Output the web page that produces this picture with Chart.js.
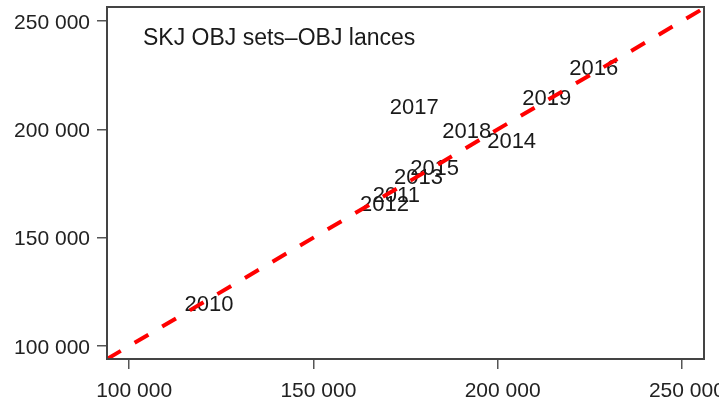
<!DOCTYPE html>
<html>
<head>
<meta charset="utf-8">
<script src="https://cdn.jsdelivr.net/npm/chart.js@4"></script>
<style>
  html, body { margin: 0; padding: 0; background: #fff; }
  canvas { display: block; }
</style>
</head>
<body>
<canvas id="grafica" width="719" height="405"></canvas>
<script>
// 📋 DATOS
const anios = ['2010', '2011', '2012', '2013', '2014', '2015', '2016', '2017', '2018', '2019'];
const sets = [121700, 172500, 169300, 178500, 203800, 182900, 226100, 177400, 191600, 213300];
const lances = [118900, 169200, 165100, 177500, 194100, 181700, 227800, 209800, 198700, 214000];
const lineaIgual = [94000, 256000];
const ticksEje = [100000, 150000, 200000, 250000];
const titulo = 'SKJ OBJ sets\u2013OBJ lances';

const fuente = '"Liberation Sans", Arial, sans-serif';

function formatoMiles(v) {
  return String(v).replace(/\B(?=(\d{3})+(?!\d))/g, ' ');
}

// 🏷️ ETIQUETAS DE AÑO + TITULO + MARCO
const etiquetas = {
  id: 'etiquetas',
  beforeDatasetsDraw(chart) {
    const ctx = chart.ctx;
    const meta = chart.getDatasetMeta(0);
    ctx.save();
    ctx.fillStyle = '#1a1a1a';
    ctx.font = '22px ' + fuente;
    ctx.textAlign = 'center';
    ctx.textBaseline = 'middle';
    meta.data.forEach((p, i) => {
      ctx.fillText(anios[i], p.x, p.y);
    });
    const area = chart.chartArea;
    ctx.font = '23px ' + fuente;
    ctx.textAlign = 'left';
    ctx.fillText(titulo, area.left + 36, area.top + 32);
    ctx.restore();
  },
  afterDraw(chart) {
    const ctx = chart.ctx;
    const a = chart.chartArea;
    ctx.save();
    ctx.strokeStyle = '#444';
    ctx.lineWidth = 2;
    ctx.strokeRect(a.left, a.top, a.right - a.left, a.bottom - a.top);
    ctx.restore();
  }
};

const ejeComun = {
  type: 'linear',
  grid: { drawOnChartArea: false, drawTicks: true, tickLength: 10, color: '#555', lineWidth: 1.5 },
  border: { display: true, color: '#444', width: 2 },
  ticks: {
    color: '#222',
    font: { family: fuente, size: 21 },
    callback: v => formatoMiles(v)
  },
  afterBuildTicks: scale => {
    scale.ticks = ticksEje.map(v => ({ value: v }));
  }
};

new Chart(document.getElementById('grafica').getContext('2d'), {
  type: 'scatter',
  data: {
    datasets: [{
      data: sets.map((x, i) => ({ x: x, y: lances[i] })),
      pointRadius: 0,
      showLine: false
    }, {
      data: lineaIgual.map(v => ({ x: v, y: v })),
      showLine: true,
      pointRadius: 0,
      borderColor: '#ff0000',
      borderWidth: 4,
      borderDash: [16, 16],
      borderCapStyle: 'butt'
    }]
  },
  options: {
    responsive: false,
    devicePixelRatio: 1,
    animation: false,
    layout: { padding: { top: 7, right: 15, left: 0, bottom: 0 } },
    plugins: {
      legend: { display: false },
      tooltip: { enabled: false }
    },
    scales: {
      x: Object.assign({}, ejeComun, {
        min: 94000, max: 256000,
        ticks: Object.assign({}, ejeComun.ticks, { padding: 10, labelOffset: 5 }),
        afterFit: s => { s.height = 46; s.paddingLeft = 0; s.paddingRight = 0; }
      }),
      y: Object.assign({}, ejeComun, {
        min: 94000, max: 256500,
        ticks: Object.assign({}, ejeComun.ticks, { padding: 7, labelOffset: 2 }),
        afterFit: s => { s.width = 107; s.paddingTop = 0; s.paddingBottom = 0; }
      })
    }
  },
  plugins: [etiquetas]
});
</script>
</body>
</html>
